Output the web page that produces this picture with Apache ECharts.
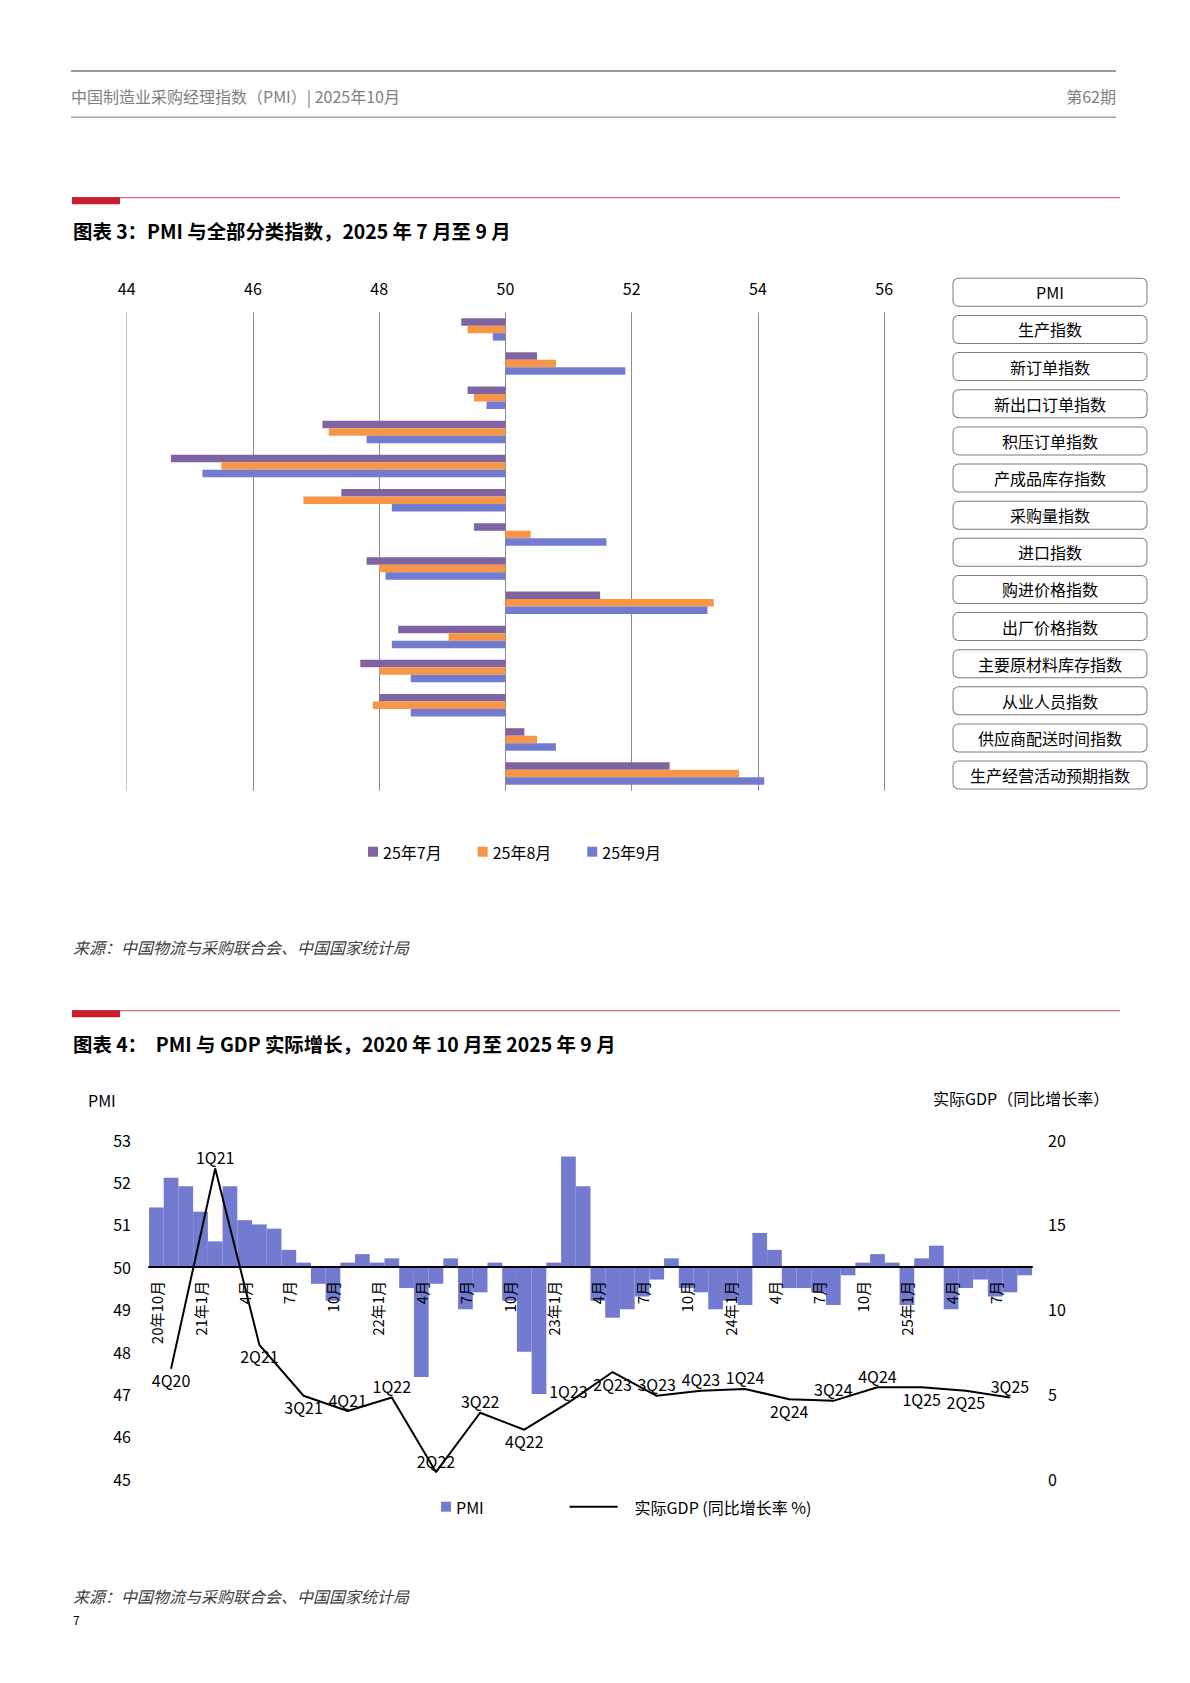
<!DOCTYPE html>
<html><head><meta charset="utf-8">
<script src="https://cdn.jsdelivr.net/npm/echarts@6/dist/echarts.min.js"></script>
<style>html,body{margin:0;padding:0;background:#fff}#c{width:1190px;height:1683px}</style>
</head><body><div id="c"></div>
<script>
// ---------- Chart 3 data ----------
const indexNames = ['PMI','生产指数','新订单指数','新出口订单指数','积压订单指数','产成品库存指数','采购量指数','进口指数','购进价格指数','出厂价格指数','主要原材料库存指数','从业人员指数','供应商配送时间指数','生产经营活动预期指数'];
const monthSeriesNames = ['25年7月','25年8月','25年9月'];
const jul25 = [49.3,50.5,49.4,47.1,44.7,47.4,49.5,47.8,51.5,48.3,47.7,48.0,50.3,52.6];
const aug25 = [49.4,50.8,49.5,47.2,45.5,46.8,50.4,48.0,53.3,49.1,48.0,47.9,50.5,53.7];
const sep25 = [49.8,51.9,49.7,47.8,45.2,48.2,51.6,48.1,53.2,48.2,48.5,48.5,50.8,54.1];
const indexTicks = [44,46,48,50,52,54,56];

// ---------- Chart 4 data ----------
const months = ['20年10月','11月','12月',
 '21年1月','2月','3月','4月','5月','6月','7月','8月','9月','10月','11月','12月',
 '22年1月','2月','3月','4月','5月','6月','7月','8月','9月','10月','11月','12月',
 '23年1月','2月','3月','4月','5月','6月','7月','8月','9月','10月','11月','12月',
 '24年1月','2月','3月','4月','5月','6月','7月','8月','9月','10月','11月','12月',
 '25年1月','2月','3月','4月','5月','6月','7月','8月','9月'];
const pmiMonthly = [51.4,52.1,51.9,
 51.3,50.6,51.9,51.1,51.0,50.9,50.4,50.1,49.6,49.2,50.1,50.3,
 50.1,50.2,49.5,47.4,49.6,50.2,49.0,49.4,50.1,49.2,48.0,47.0,
 50.1,52.6,51.9,49.2,48.8,49.0,49.3,49.7,50.2,49.5,49.4,49.0,
 49.2,49.1,50.8,50.4,49.5,49.5,49.4,49.1,49.8,50.1,50.3,50.1,
 49.1,50.2,50.5,49.0,49.5,49.7,49.3,49.4,49.8];
const quarters = ['4Q20','1Q21','2Q21','3Q21','4Q21','1Q22','2Q22','3Q22','4Q22','1Q23','2Q23','3Q23','4Q23','1Q24','2Q24','3Q24','4Q24','1Q25','2Q25','3Q25'];
const gdpYoY = [6.5,18.3,7.9,4.9,4.0,4.8,0.4,3.9,2.9,4.5,6.3,4.9,5.2,5.3,4.7,4.6,5.4,5.4,5.2,4.8];
const pmiTicks = [45,46,47,48,49,50,51,52,53];
const gdpTicks = [0,5,10,15,20];

// ---------- build ----------
const FONT = '"Noto Sans CJK SC", "Noto Sans", sans-serif';
const BASE = 50;
const C_PUR = '#8064A2', C_ORA = '#F79646', C_BLU = '#727BD0';
const labelPos = ['bottom','top','bottom','bottom','top','top','top','top','bottom','top','bottom','top','top','top','bottom','top','top','bottom','bottom','top'];

function txt(x, y, text, o) {
  o = o || {};
  return {type:'text', x:x, y:y, z:10, style:Object.assign({text:text, fill:'#000', fontSize:16, fontFamily:FONT, align:'left', verticalAlign:'middle'}, o)};
}
function hline(x1, x2, y, color, w) {
  return {type:'line', shape:{x1:x1, y1:y, x2:x2, y2:y}, style:{stroke:color, lineWidth:w}};
}

const chart = echarts.init(document.getElementById('c'), null, {renderer:'svg', width:1190, height:1683});

const barSeries3 = [jul25, aug25, sep25].map((arr, i) => ({
  name: monthSeriesNames[i], type:'bar', xAxisIndex:0, yAxisIndex:0,
  data: arr.map(v => +(v - BASE).toFixed(2)),
  barWidth: 7.5, barGap:'0%',
  itemStyle:{color:[C_PUR, C_ORA, C_BLU][i]}
}));

// chart 4 plot area: PMI 53 at top, 45 at bottom; the month labels hang from the 50 line
const G4 = {left:149, top:1139.6, width:883, height:339.3};
const zeroY = G4.top + G4.height * (pmiTicks[pmiTicks.length-1] - BASE) / (pmiTicks[pmiTicks.length-1] - pmiTicks[0]);

const option = {
  animation:false,
  backgroundColor:'#fff',
  textStyle:{fontFamily:FONT},
  grid:[
    {left:126.7, top:312.3, width:757.5, height:478.4, outerBoundsMode:'none', containLabel:false},
    {left:1050, top:273.8, width:1, height:519.8, outerBoundsMode:'none', containLabel:false},
    Object.assign({outerBoundsMode:'none', containLabel:false}, G4),
    {left:G4.left, top:G4.top, width:G4.width, height:zeroY - G4.top, outerBoundsMode:'none', containLabel:false}
  ],
  xAxis:[
    {gridIndex:0, type:'value', position:'top', min:indexTicks[0]-BASE, max:indexTicks[indexTicks.length-1]-BASE, interval:indexTicks[1]-indexTicks[0],
     axisLine:{show:false}, axisTick:{show:false},
     axisLabel:{formatter:v => String(v + BASE), fontSize:16, color:'#000', margin:16, fontFamily:FONT},
     splitLine:{show:true, lineStyle:{color:['#c4c4c4','#8a8a8a','#8a8a8a','#8a8a8a','#8a8a8a','#8a8a8a','#8a8a8a'], width:1}}},
    {gridIndex:1, type:'value', min:0, max:1, show:false},
    {gridIndex:2, type:'category', data:months, boundaryGap:true, z:5,
     axisLine:{show:true, onZero:true, onZeroAxisIndex:2, lineStyle:{color:'#000', width:2}},
     axisTick:{show:false}, axisLabel:{show:false}, splitLine:{show:false}},
    {gridIndex:3, type:'category', data:months, boundaryGap:true, position:'bottom', z:10,
     axisLine:{show:false}, axisTick:{show:false}, splitLine:{show:false},
     axisLabel:{interval:2, rotate:90, fontSize:15, color:'#000', margin:14, fontFamily:FONT}}
  ],
  yAxis:[
    {gridIndex:0, type:'category', data:indexNames, inverse:true, axisLine:{show:false}, axisTick:{show:false}, axisLabel:{show:false}, splitLine:{show:false}},
    {gridIndex:1, type:'category', data:indexNames, inverse:true, position:'left', axisLine:{show:false}, axisTick:{show:false}, splitLine:{show:false},
     axisLabel:{interval:0, margin:0, align:'center', verticalAlign:'middle', width:193, height:27, lineHeight:27,
       backgroundColor:'#fff', borderColor:'#7a7a7a', borderWidth:1, borderRadius:5, fontSize:16, color:'#000', fontFamily:FONT}},
    {gridIndex:2, type:'value', min:pmiTicks[0]-BASE, max:pmiTicks[pmiTicks.length-1]-BASE, interval:pmiTicks[1]-pmiTicks[0], position:'left',
     axisLine:{show:false}, axisTick:{show:false}, splitLine:{show:false},
     axisLabel:{formatter:v => String(v + BASE), fontSize:16, color:'#000', margin:18, fontFamily:FONT}},
    {gridIndex:2, type:'value', min:gdpTicks[0], max:gdpTicks[gdpTicks.length-1], interval:gdpTicks[1]-gdpTicks[0], position:'right',
     axisLine:{show:false}, axisTick:{show:false}, splitLine:{show:false},
     axisLabel:{fontSize:16, color:'#000', margin:16, fontFamily:FONT}},
    {gridIndex:3, type:'value', min:0, max:1, show:false}
  ],
  legend:[
    {data:monthSeriesNames, left:368, top:843.7, padding:0, orient:'horizontal', icon:'rect', itemWidth:10, itemHeight:10, itemGap:36,
     textStyle:{fontSize:16, color:'#000', fontFamily:FONT}, selectedMode:false},
    {data:['PMI'], left:441, top:1498.7, padding:0, icon:'rect', itemWidth:10, itemHeight:10,
     textStyle:{fontSize:16, color:'#000', fontFamily:FONT}, selectedMode:false},
    {data:['实际GDP (同比增长率 %)'], left:569.6, top:1498.7, padding:0, icon:'rect', itemWidth:48, itemHeight:2,
     textStyle:{fontSize:16, color:'#000', fontFamily:FONT, padding:[0,0,0,12]}, selectedMode:false}
  ],
  series: barSeries3.concat([
    {name:'PMI', type:'bar', xAxisIndex:2, yAxisIndex:2,
     data: pmiMonthly.map(v => +(v - BASE).toFixed(2)),
     barCategoryGap:'0%', itemStyle:{color:C_BLU}},
    {name:'实际GDP (同比增长率 %)', type:'line', xAxisIndex:2, yAxisIndex:3, z:4,
     data: gdpYoY.map((v, i) => ({value:[1 + 3 * i, v], label:{position:labelPos[i]}})),
     symbol:'circle', symbolSize:1, showSymbol:true,
     lineStyle:{color:'#000', width:2}, itemStyle:{color:'#000'},
     label:{show:true, formatter:p => quarters[p.dataIndex], fontSize:16, color:'#000', distance:3, fontFamily:FONT},
     labelLayout:{hideOverlap:false}}
  ]),
  graphic:[
    hline(71, 1116, 71, '#9a9a9a', 2),
    hline(71, 1116, 117.3, '#a6a6a6', 1.5),
    txt(71, 96, '中国制造业采购经理指数（PMI）| 2025年10月', {fill:'#7f7f7f', fontSize:16}),
    txt(1116, 96, '第62期', {fill:'#7f7f7f', fontSize:16, align:'right'}),
    hline(72, 1120, 197.7, '#d9404f', 1),
    {type:'rect', shape:{x:72, y:197.2, width:48, height:7}, style:{fill:'#c81e2e'}},
    txt(73, 230, '图表 3：PMI 与全部分类指数，2025 年 7 月至 9 月', {fontSize:19.4, fontWeight:'bold'}),
    txt(73, 946.7, '来源：中国物流与采购联合会、中国国家统计局', {fontSize:16, fontStyle:'italic', fill:'#404040'}),
    hline(72, 1120, 1010.7, '#d9404f', 1),
    {type:'rect', shape:{x:72, y:1010.2, width:48, height:7}, style:{fill:'#c81e2e'}},
    txt(73, 1043.3, '图表 4：  PMI 与 GDP 实际增长，2020 年 10 月至 2025 年 9 月', {fontSize:19.4, fontWeight:'bold'}),
    txt(88, 1100, 'PMI', {fontSize:16}),
    txt(933, 1097.7, '实际GDP（同比增长率）', {fontSize:16}),
    txt(73, 1595.7, '来源：中国物流与采购联合会、中国国家统计局', {fontSize:16, fontStyle:'italic', fill:'#404040'}),
    txt(73, 1619.3, '7', {fontSize:12})
  ]
};
chart.setOption(option);
</script>
</body></html>
